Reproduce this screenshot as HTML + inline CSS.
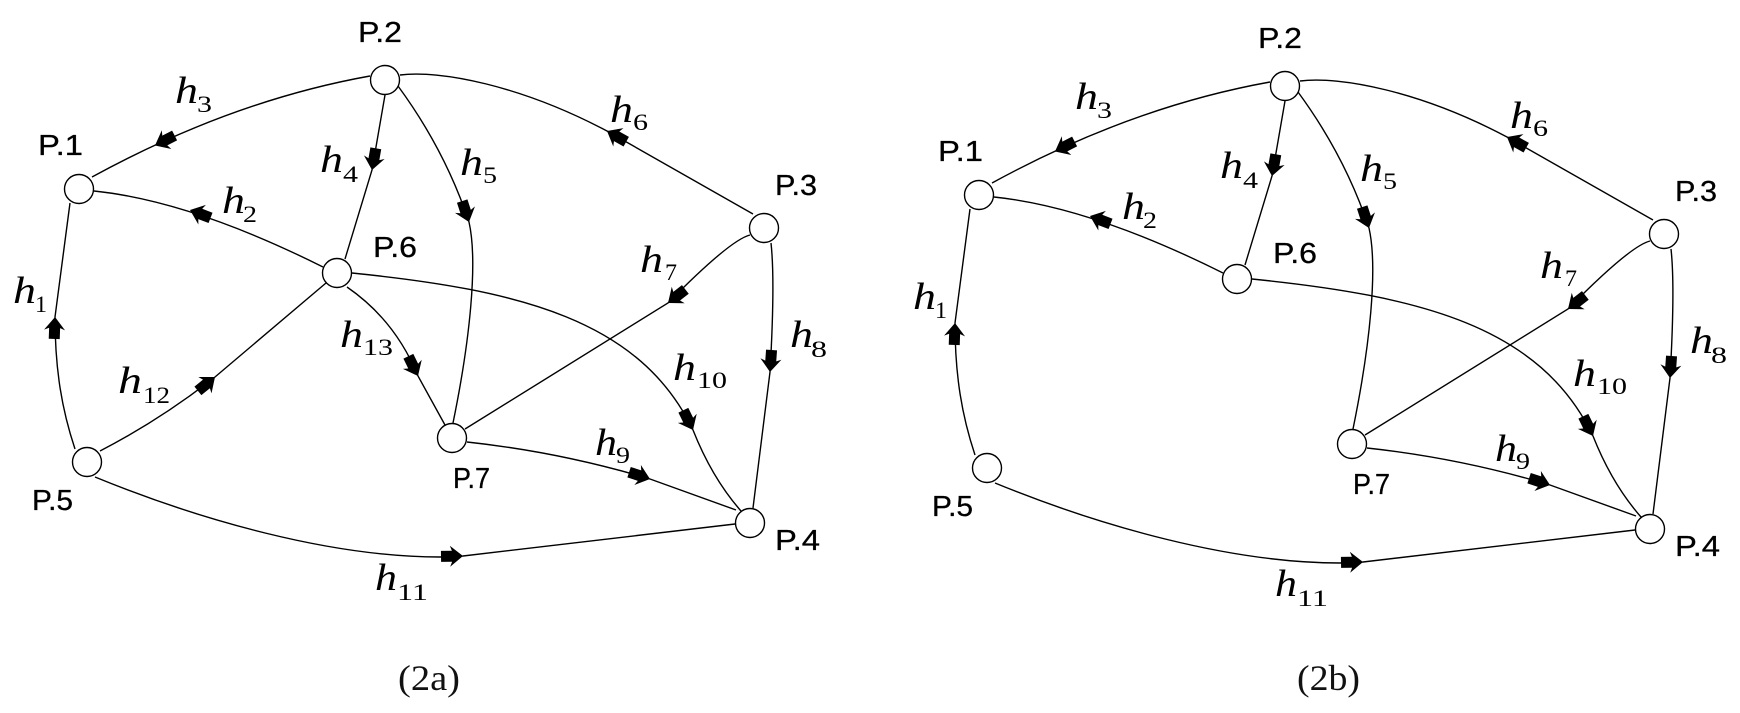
<!DOCTYPE html>
<html>
<head>
<meta charset="utf-8">
<style>
html,body{margin:0;padding:0;background:#fff;}
svg{display:block;}
.e{fill:none;stroke:#000;stroke-width:1.4;}
.n{fill:#fff;stroke:#000;stroke-width:1.4;}
.p{font-family:"Liberation Sans",sans-serif;font-size:29px;fill:#000;stroke:#000;stroke-width:0.3;}
.h{font-family:"Liberation Serif",serif;font-style:italic;font-size:38px;fill:#000;}
.s{font-family:"Liberation Serif",serif;font-size:23px;fill:#000;}
.c{font-family:"Liberation Serif",serif;font-size:36px;fill:#111;}
</style>
</head>
<body>
<svg width="1740" height="713" viewBox="0 0 1740 713" xmlns="http://www.w3.org/2000/svg">
<defs>
<path id="ar" d="M0,0 L-13,-10.5 L-11,-5.5 L-22,-5.5 L-22,5.5 L-11,5.5 L-13,10.5 Z" fill="#000"/>
</defs>

<!-- ================= Diagram (2a) ================= -->
<g>
<path class="e" d="M75,449 C62,410 55,370 55,317 L70,203"/>
<path class="e" d="M94,191 Q191,201 323,267"/>
<path class="e" d="M370,76 Q231,101 92,177"/>
<path class="e" d="M385,95 L372,170 L345,259"/>
<path class="e" d="M398,86 Q445,150 469,222 C478,262 470,340 453,423"/>
<path class="e" d="M400,75 C440,70 520,85 607,131 L753,214"/>
<path class="e" d="M750,235 Q730,240 668,303 L465,429"/>
<path class="e" d="M771,243 C774,270 773,320 770,372 L753,508"/>
<path class="e" d="M467,442 Q560,452 650,479 L736,510"/>
<path class="e" d="M352,273 C520,290 640,320 693,430 Q712,478 741,511"/>
<path class="e" d="M95,477 C200,520 330,557 440,557 L463,556 L735,524"/>
<path class="e" d="M100,451 Q160,420 215,377 L326,283"/>
<path class="e" d="M347,287 Q395,320 418,376 L445,425"/>

<use href="#ar" transform="translate(55,317) rotate(-88)"/>
<use href="#ar" transform="translate(190,210) rotate(201)"/>
<use href="#ar" transform="translate(155,145.5) rotate(153)"/>
<use href="#ar" transform="translate(372,170) rotate(100)"/>
<use href="#ar" transform="translate(469,222) rotate(72)"/>
<use href="#ar" transform="translate(607,131) rotate(209)"/>
<use href="#ar" transform="translate(668,303) rotate(142)"/>
<use href="#ar" transform="translate(770,372) rotate(94)"/>
<use href="#ar" transform="translate(650,479) rotate(18)"/>
<use href="#ar" transform="translate(693,430) rotate(64)"/>
<use href="#ar" transform="translate(463,556) rotate(-1)"/>
<use href="#ar" transform="translate(215,377) rotate(-39)"/>
<use href="#ar" transform="translate(418,376) rotate(64)"/>

<circle class="n" cx="79" cy="189" r="14.5"/>
<circle class="n" cx="385" cy="80" r="14.5"/>
<circle class="n" cx="764" cy="228" r="14.5"/>
<circle class="n" cx="750" cy="523" r="14.5"/>
<circle class="n" cx="87" cy="462" r="14.5"/>
<circle class="n" cx="337" cy="273" r="14.5"/>
<circle class="n" cx="452" cy="438" r="14.5"/>

<text class="p" x="38" y="155" textLength="45" lengthAdjust="spacingAndGlyphs">P.1</text>
<text class="p" x="358" y="42" textLength="44" lengthAdjust="spacingAndGlyphs">P.2</text>
<text class="p" x="775" y="195" textLength="42" lengthAdjust="spacingAndGlyphs">P.3</text>
<text class="p" x="775" y="550" textLength="45" lengthAdjust="spacingAndGlyphs">P.4</text>
<text class="p" x="32" y="510" textLength="41" lengthAdjust="spacingAndGlyphs">P.5</text>
<text class="p" x="373" y="257" textLength="44" lengthAdjust="spacingAndGlyphs">P.6</text>
<text class="p" x="453" y="488" textLength="37" lengthAdjust="spacingAndGlyphs">P.7</text>

<text class="h" x="13" y="303" textLength="23" lengthAdjust="spacingAndGlyphs">h</text><text class="s" x="35" y="312" textLength="12" lengthAdjust="spacingAndGlyphs">1</text>
<text class="h" x="222" y="213" textLength="23" lengthAdjust="spacingAndGlyphs">h</text><text class="s" x="243" y="222" textLength="14" lengthAdjust="spacingAndGlyphs">2</text>
<text class="h" x="175" y="103" textLength="23" lengthAdjust="spacingAndGlyphs">h</text><text class="s" x="197" y="112" textLength="15" lengthAdjust="spacingAndGlyphs">3</text>
<text class="h" x="320" y="172" textLength="23" lengthAdjust="spacingAndGlyphs">h</text><text class="s" x="343" y="182" textLength="15" lengthAdjust="spacingAndGlyphs">4</text>
<text class="h" x="460" y="175" textLength="23" lengthAdjust="spacingAndGlyphs">h</text><text class="s" x="483" y="183" textLength="14" lengthAdjust="spacingAndGlyphs">5</text>
<text class="h" x="610" y="122" textLength="23" lengthAdjust="spacingAndGlyphs">h</text><text class="s" x="633" y="130" textLength="15" lengthAdjust="spacingAndGlyphs">6</text>
<text class="h" x="640" y="272" textLength="23" lengthAdjust="spacingAndGlyphs">h</text><text class="s" x="665" y="280" textLength="12" lengthAdjust="spacingAndGlyphs">7</text>
<text class="h" x="790" y="347" textLength="23" lengthAdjust="spacingAndGlyphs">h</text><text class="s" x="811" y="357" textLength="16" lengthAdjust="spacingAndGlyphs">8</text>
<text class="h" x="595" y="455" textLength="22" lengthAdjust="spacingAndGlyphs">h</text><text class="s" x="616" y="463" textLength="14" lengthAdjust="spacingAndGlyphs">9</text>
<text class="h" x="673" y="380" textLength="23" lengthAdjust="spacingAndGlyphs">h</text><text class="s" x="697" y="388" textLength="30" lengthAdjust="spacingAndGlyphs">10</text>
<text class="h" x="375" y="590" textLength="22" lengthAdjust="spacingAndGlyphs">h</text><text class="s" x="397" y="600" textLength="31" lengthAdjust="spacingAndGlyphs">11</text>
<text class="h" x="118" y="393" textLength="24" lengthAdjust="spacingAndGlyphs">h</text><text class="s" x="143" y="403" textLength="27" lengthAdjust="spacingAndGlyphs">12</text>
<text class="h" x="340" y="347" textLength="23" lengthAdjust="spacingAndGlyphs">h</text><text class="s" x="363" y="355" textLength="30" lengthAdjust="spacingAndGlyphs">13</text>

<text class="c" x="398" y="690" textLength="62" lengthAdjust="spacingAndGlyphs">(2a)</text>
</g>

<!-- ================= Diagram (2b) ================= -->
<g transform="translate(900,6)">
<path class="e" d="M75,449 C62,410 55,370 55,317 L70,203"/>
<path class="e" d="M94,191 Q191,201 323,267"/>
<path class="e" d="M370,76 Q231,101 92,177"/>
<path class="e" d="M385,95 L372,170 L345,259"/>
<path class="e" d="M398,86 Q445,150 469,222 C478,262 470,340 453,423"/>
<path class="e" d="M400,75 C440,70 520,85 607,131 L753,214"/>
<path class="e" d="M750,235 Q730,240 668,303 L465,429"/>
<path class="e" d="M771,243 C774,270 773,320 770,372 L753,508"/>
<path class="e" d="M467,442 Q560,452 650,479 L736,510"/>
<path class="e" d="M352,273 C520,290 640,320 693,430 Q712,478 741,511"/>
<path class="e" d="M95,477 C200,520 330,557 440,557 L463,556 L735,524"/>

<use href="#ar" transform="translate(55,317) rotate(-88)"/>
<use href="#ar" transform="translate(190,210) rotate(201)"/>
<use href="#ar" transform="translate(155,145.5) rotate(153)"/>
<use href="#ar" transform="translate(372,170) rotate(100)"/>
<use href="#ar" transform="translate(469,222) rotate(72)"/>
<use href="#ar" transform="translate(607,131) rotate(209)"/>
<use href="#ar" transform="translate(668,303) rotate(142)"/>
<use href="#ar" transform="translate(770,372) rotate(94)"/>
<use href="#ar" transform="translate(650,479) rotate(18)"/>
<use href="#ar" transform="translate(693,430) rotate(64)"/>
<use href="#ar" transform="translate(463,556) rotate(-1)"/>

<circle class="n" cx="79" cy="189" r="14.5"/>
<circle class="n" cx="385" cy="80" r="14.5"/>
<circle class="n" cx="764" cy="228" r="14.5"/>
<circle class="n" cx="750" cy="523" r="14.5"/>
<circle class="n" cx="87" cy="462" r="14.5"/>
<circle class="n" cx="337" cy="273" r="14.5"/>
<circle class="n" cx="452" cy="438" r="14.5"/>

<text class="p" x="38" y="155" textLength="45" lengthAdjust="spacingAndGlyphs">P.1</text>
<text class="p" x="358" y="42" textLength="44" lengthAdjust="spacingAndGlyphs">P.2</text>
<text class="p" x="775" y="195" textLength="42" lengthAdjust="spacingAndGlyphs">P.3</text>
<text class="p" x="775" y="550" textLength="45" lengthAdjust="spacingAndGlyphs">P.4</text>
<text class="p" x="32" y="510" textLength="41" lengthAdjust="spacingAndGlyphs">P.5</text>
<text class="p" x="373" y="257" textLength="44" lengthAdjust="spacingAndGlyphs">P.6</text>
<text class="p" x="453" y="488" textLength="37" lengthAdjust="spacingAndGlyphs">P.7</text>

<text class="h" x="13" y="303" textLength="23" lengthAdjust="spacingAndGlyphs">h</text><text class="s" x="35" y="312" textLength="12" lengthAdjust="spacingAndGlyphs">1</text>
<text class="h" x="222" y="213" textLength="23" lengthAdjust="spacingAndGlyphs">h</text><text class="s" x="243" y="222" textLength="14" lengthAdjust="spacingAndGlyphs">2</text>
<text class="h" x="175" y="103" textLength="23" lengthAdjust="spacingAndGlyphs">h</text><text class="s" x="197" y="112" textLength="15" lengthAdjust="spacingAndGlyphs">3</text>
<text class="h" x="320" y="172" textLength="23" lengthAdjust="spacingAndGlyphs">h</text><text class="s" x="343" y="182" textLength="15" lengthAdjust="spacingAndGlyphs">4</text>
<text class="h" x="460" y="175" textLength="23" lengthAdjust="spacingAndGlyphs">h</text><text class="s" x="483" y="183" textLength="14" lengthAdjust="spacingAndGlyphs">5</text>
<text class="h" x="610" y="122" textLength="23" lengthAdjust="spacingAndGlyphs">h</text><text class="s" x="633" y="130" textLength="15" lengthAdjust="spacingAndGlyphs">6</text>
<text class="h" x="640" y="272" textLength="23" lengthAdjust="spacingAndGlyphs">h</text><text class="s" x="665" y="280" textLength="12" lengthAdjust="spacingAndGlyphs">7</text>
<text class="h" x="790" y="347" textLength="23" lengthAdjust="spacingAndGlyphs">h</text><text class="s" x="811" y="357" textLength="16" lengthAdjust="spacingAndGlyphs">8</text>
<text class="h" x="595" y="455" textLength="22" lengthAdjust="spacingAndGlyphs">h</text><text class="s" x="616" y="463" textLength="14" lengthAdjust="spacingAndGlyphs">9</text>
<text class="h" x="673" y="380" textLength="23" lengthAdjust="spacingAndGlyphs">h</text><text class="s" x="697" y="388" textLength="30" lengthAdjust="spacingAndGlyphs">10</text>
<text class="h" x="375" y="590" textLength="22" lengthAdjust="spacingAndGlyphs">h</text><text class="s" x="397" y="600" textLength="31" lengthAdjust="spacingAndGlyphs">11</text>

<text class="c" x="397" y="684" textLength="63" lengthAdjust="spacingAndGlyphs">(2b)</text>
</g>
</svg>
</body>
</html>
